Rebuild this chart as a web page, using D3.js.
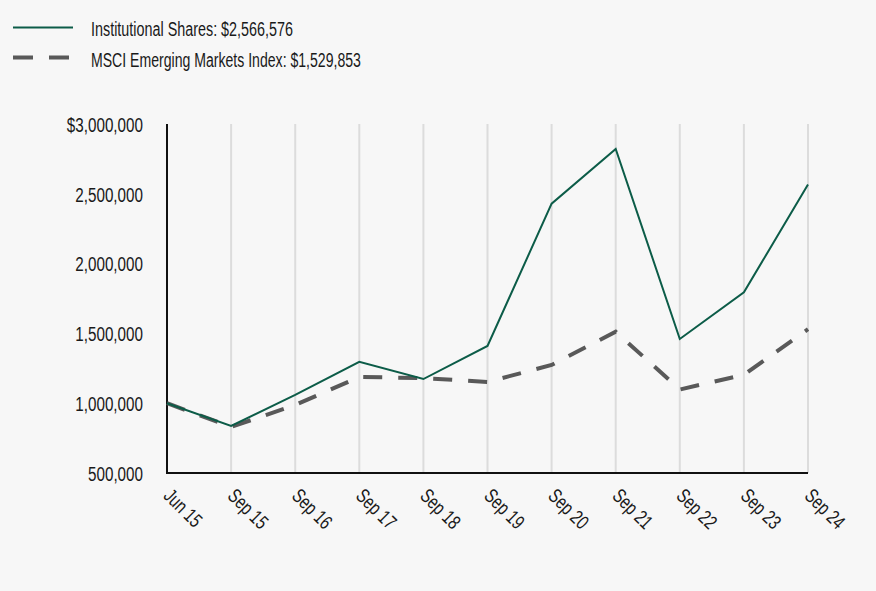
<!DOCTYPE html>
<html><head><meta charset="utf-8">
<script src="https://cdn.jsdelivr.net/npm/d3@7"></script>
<style>
html,body{margin:0;padding:0;background:#f7f7f7;}
svg{display:block;}
text{font-family:"Liberation Sans",Arial,sans-serif;fill:#1a1a1a;}
</style></head>
<body>
<svg id="chart" width="876" height="591"></svg>
<script>
const categories = ["Jun 15","Sep 15","Sep 16","Sep 17","Sep 18","Sep 19","Sep 20","Sep 21","Sep 22","Sep 23","Sep 24"];
const institutional = [1000000, 837000, 1059000, 1296000, 1173000, 1410000, 2429000, 2821000, 1460000, 1794000, 2566576];
const msci = [1000000, 830000, 987000, 1188000, 1180000, 1152000, 1274000, 1512000, 1098000, 1204000, 1529853];
const yTicks = [500000, 1000000, 1500000, 2000000, 2500000, 3000000];
const legendLabels = ["Institutional Shares: $2,566,576", "MSCI Emerging Markets Index: $1,529,853"];

const FONT = '"Liberation Sans",Arial,sans-serif';
const svg = d3.select("#chart");
svg.append("rect").attr("width",876).attr("height",591).attr("fill","#f7f7f7");

const x = d3.scalePoint().domain(categories).range([167, 808]);
const y = d3.scaleLinear().domain([500000, 3000000]).range([473, 124]);

// vertical gridlines
svg.append("g").selectAll("line").data(categories.slice(1)).join("line")
  .attr("x1", d=>x(d)).attr("x2", d=>x(d)).attr("y1", y(3000000)).attr("y2", y(500000))
  .attr("stroke","#dcdcdc").attr("stroke-width",2);

// legend
const lg = svg.append("g");
lg.append("line").attr("x1",13).attr("x2",73).attr("y1",27.5).attr("y2",27.5)
  .attr("stroke","#0c5c48").attr("stroke-width",2);
lg.append("line").attr("x1",13).attr("x2",73).attr("y1",57.5).attr("y2",57.5)
  .attr("stroke","#595959").attr("stroke-width",4).attr("stroke-dasharray","20,16");
const legTexts = lg.selectAll("text").data(legendLabels).join("text")
  .attr("x",91).attr("y",(d,i)=>36+i*31).attr("font-size",20).style("font-family",FONT).text(d=>d);

// condensation factor derived from legend width in reference
const k = 202 / legTexts.node().getComputedTextLength();
function condense(sel, f){
  sel.each(function(){
    const w = this.getComputedTextLength();
    d3.select(this).attr("textLength", w*k*f).attr("lengthAdjust","spacingAndGlyphs");
  });
}
condense(legTexts.filter((d,i)=>i===0), 1);
condense(legTexts.filter((d,i)=>i===1), 0.98);

// y axis
const fmt = d3.format(",");
const yAxis = d3.axisLeft(y).tickValues(yTicks).tickSize(0).tickPadding(24)
  .tickFormat(d => (d===3000000 ? "$" : "") + fmt(d));
const gy = svg.append("g").attr("transform","translate(167,0)").call(yAxis);
gy.select(".domain").remove();
const yt = gy.selectAll("text").attr("font-size",20).attr("dy","0.36em")
  .style("font-family",FONT).attr("fill","#1a1a1a");
condense(yt, 1.06);

// x axis
const xAxis = d3.axisBottom(x).tickSize(0).tickPadding(0);
const gx = svg.append("g").attr("transform","translate(0,473)").call(xAxis);
gx.select(".domain").remove();
const xt = gx.selectAll("text").attr("font-size",20).attr("text-anchor","start")
  .attr("dy",0).attr("y",0)
  .attr("transform","translate(-5,24) rotate(45)")
  .style("font-family",FONT).attr("fill","#1a1a1a");
condense(xt, 1.04);

// axis lines
svg.append("line").attr("x1",167).attr("x2",167).attr("y1",y(3000000)).attr("y2",y(500000)+1)
  .attr("stroke","#111").attr("stroke-width",2);
svg.append("line").attr("x1",166).attr("x2",x(categories[categories.length-1])).attr("y1",y(500000)).attr("y2",y(500000))
  .attr("stroke","#111").attr("stroke-width",2);

const line = d3.line().x((d,i)=>x(categories[i])).y(d=>y(d));

svg.append("path").datum(msci).attr("d",line).attr("fill","none")
  .attr("stroke","#595959").attr("stroke-width",4).attr("stroke-dasharray","19,16");
svg.append("path").datum(institutional).attr("d",line).attr("fill","none")
  .attr("stroke","#0c5c48").attr("stroke-width",2);
</script>
</body></html>
